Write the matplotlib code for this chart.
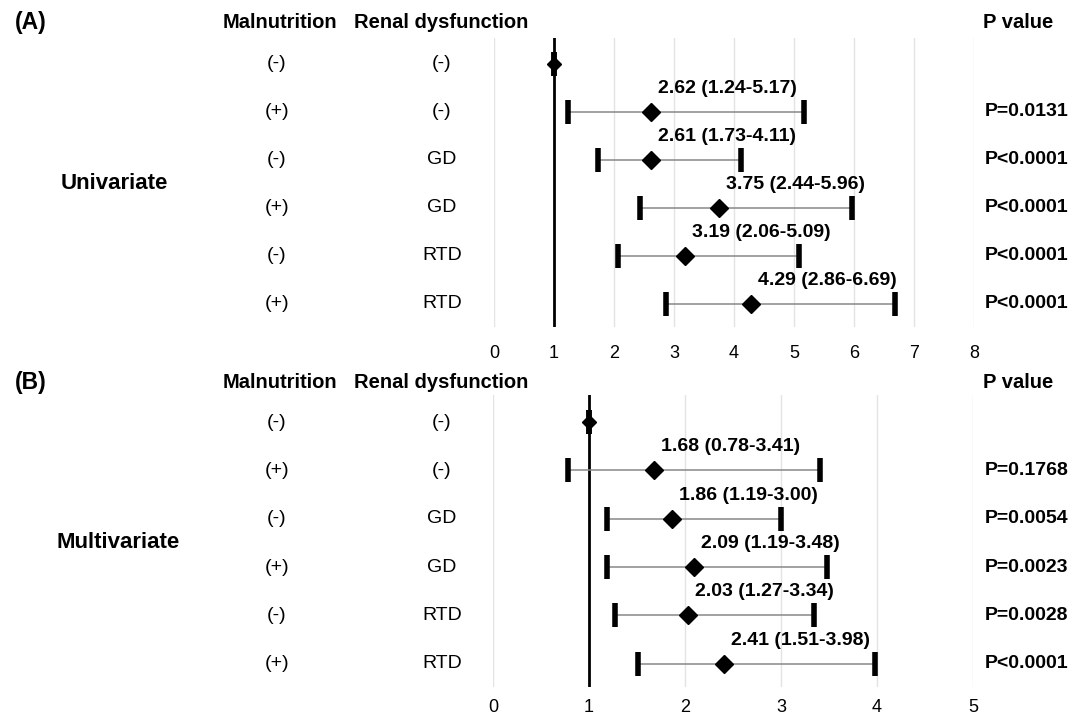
import numpy as np
import matplotlib.pyplot as plt
from matplotlib.transforms import blended_transform_factory

plt.rcParams['font.family'] = ['Liberation Sans', 'DejaVu Sans']

malnutrition = ["(-)", "(+)", "(-)", "(+)", "(-)", "(+)"]
renal = ["(-)", "(-)", "GD", "GD", "RTD", "RTD"]

uni_hr = [1, 2.62, 2.61, 3.75, 3.19, 4.29]
uni_lo = [1, 1.24, 1.73, 2.44, 2.06, 2.86]
uni_hi = [1, 5.17, 4.11, 5.96, 5.09, 6.69]
uni_p = ["", "P=0.0131", "P<0.0001", "P<0.0001", "P<0.0001", "P<0.0001"]

multi_hr = [1, 1.68, 1.86, 2.09, 2.03, 2.41]
multi_lo = [1, 0.78, 1.19, 1.19, 1.27, 1.51]
multi_hi = [1, 3.41, 3.00, 3.48, 3.34, 3.98]
multi_p = ["", "P=0.1768", "P=0.0054", "P=0.0023", "P=0.0028", "P<0.0001"]

W, H = 1083, 718
fig = plt.figure(figsize=(W / 100, H / 100), dpi=100)


def px(x0, y0, x1, y1):
    # pixel box -> figure fraction rect
    return [x0 / W, 1 - y1 / H, (x1 - x0) / W, (y1 - y0) / H]


def panel(rect, tag, title, hr, lo, hi, pvals, xmax, ylim, head_y, pad):
    ax = fig.add_axes(rect)
    rows = np.arange(len(hr))
    hr = np.array(hr)
    ax.set_xlim(0, xmax)
    ax.set_ylim(*ylim)
    for x in range(0, xmax + 1):
        ax.axvline(x, color="#e3e3e3", lw=1, zorder=0)
    ax.axvline(1, color="black", lw=2, zorder=1)

    # CI lines, caps, point estimates
    ax.hlines(rows[1:], lo[1:], hi[1:], color="#888888", lw=1.1, zorder=2)
    for y, l, h in zip(rows, lo, hi):
        ax.plot([l, h], [y, y], ls="none", marker="|", ms=17, mew=4,
                color="black", zorder=3)
    ax.plot(hr[1:], rows[1:], "D", color="black", ms=9, zorder=4)
    ax.plot(hr[0], rows[0], "D", color="black", ms=7, zorder=4)
    for y, v, l, h in zip(rows[1:], hr[1:], lo[1:], hi[1:]):
        ax.annotate(f"{v:.2f} ({l:.2f}-{h:.2f})", (v, y), xytext=(5, 17),
                    textcoords="offset points", ha="left", va="center",
                    fontsize=14, fontweight="bold")

    for s in ax.spines.values():
        s.set_visible(False)
    ax.set_yticks([])
    ax.set_xticks(range(0, xmax + 1))
    ax.tick_params(axis="x", length=0, labelsize=13, pad=pad)

    tr = blended_transform_factory(fig.transFigure, ax.transData)
    for y, m, r, p in zip(rows, malnutrition, renal, pvals):
        ax.text(277 / W, y, m, transform=tr, ha="center", va="center", fontsize=14)
        ax.text(442 / W, y, r, transform=tr, ha="center", va="center", fontsize=14)
        ax.text(985 / W, y, p, transform=tr, ha="left", va="center", fontsize=14,
                fontweight="bold")
    ax.text(title[1] / W, 2.5, title[0], transform=tr, ha="center", va="center",
            fontsize=16, fontweight="bold")

    hy = 1 - head_y / H
    fig.text(15 / W, hy, tag, ha="left", va="center", fontsize=16.5, fontweight="bold")
    fig.text(280 / W, hy, "Malnutrition", ha="center", va="center", fontsize=14.5,
             fontweight="bold")
    fig.text(354 / W, hy, "Renal dysfunction", ha="left", va="center", fontsize=14.5,
             fontweight="bold")
    fig.text(983 / W, hy, "P value", ha="left", va="center", fontsize=14.5,
             fontweight="bold")
    return ax


panel(px(494, 38, 974, 327), "(A)", ("Univariate", 114), uni_hr, uni_lo, uni_hi, uni_p,
      8, (5.48, -0.54), 22, 13)
panel(px(493, 395, 973, 687), "(B)", ("Multivariate", 118), multi_hr, multi_lo, multi_hi,
      multi_p, 5, (5.48, -0.56), 382, 9)

fig.savefig("out.png", dpi=100)
